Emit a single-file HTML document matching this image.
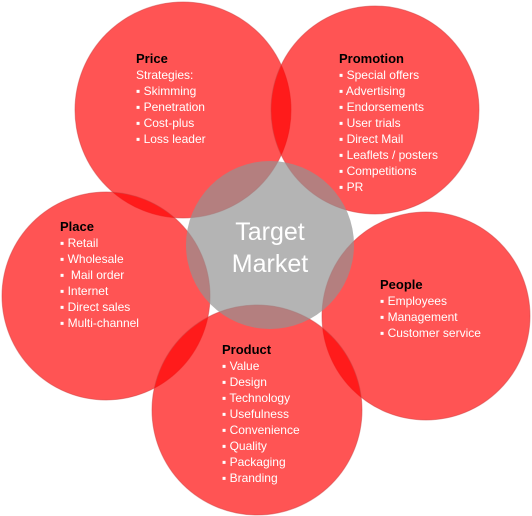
<!DOCTYPE html>
<html><head><meta charset="utf-8"><style>
html,body{margin:0;padding:0;background:#fff;}
svg{display:block;font-family:"Liberation Sans",Arial,sans-serif;}
.t{font-weight:bold;font-size:13px;fill:#000;}
.i{font-size:12px;fill:#fff;}
</style></head><body>
<svg width="532" height="516" viewBox="0 0 532 516">
<g fill="#ff0000" fill-opacity="0.67" stroke="#d04040" stroke-opacity="0.5" stroke-width="1">
<circle cx="183" cy="110" r="108"/>
<circle cx="375" cy="110" r="104"/>
<circle cx="106" cy="296" r="104"/>
<circle cx="426" cy="316" r="104"/>
<circle cx="257" cy="410" r="105"/>
</g>
<circle cx="270" cy="245" r="84" fill="#929292" fill-opacity="0.69"/>
<text x="270" y="240" text-anchor="middle" font-size="25" fill="#fff">Target</text>
<text x="270" y="272" text-anchor="middle" font-size="25" fill="#fff">Market</text>

<g>
<text class="t" x="136" y="63">Price</text>
<text class="i" x="136" y="79">Strategies:</text>
<text class="i" x="136" y="95">▪ Skimming</text>
<text class="i" x="136" y="111">▪ Penetration</text>
<text class="i" x="136" y="127">▪ Cost-plus</text>
<text class="i" x="136" y="143">▪ Loss leader</text>
</g>
<g>
<text class="t" x="339" y="63">Promotion</text>
<text class="i" x="339" y="79">▪ Special offers</text>
<text class="i" x="339" y="95">▪ Advertising</text>
<text class="i" x="339" y="111">▪ Endorsements</text>
<text class="i" x="339" y="127">▪ User trials</text>
<text class="i" x="339" y="143">▪ Direct Mail</text>
<text class="i" x="339" y="159">▪ Leaflets / posters</text>
<text class="i" x="339" y="175">▪ Competitions</text>
<text class="i" x="339" y="191">▪ PR</text>
</g>
<g>
<text class="t" x="60" y="231">Place</text>
<text class="i" x="60" y="247">▪ Retail</text>
<text class="i" x="60" y="263">▪ Wholesale</text>
<text class="i" x="60" y="279">▪&#160; Mail order</text>
<text class="i" x="60" y="295">▪ Internet</text>
<text class="i" x="60" y="311">▪ Direct sales</text>
<text class="i" x="60" y="327">▪ Multi-channel</text>
</g>
<g>
<text class="t" x="380" y="289">People</text>
<text class="i" x="380" y="305">▪ Employees</text>
<text class="i" x="380" y="321">▪ Management</text>
<text class="i" x="380" y="337">▪ Customer service</text>
</g>
<g>
<text class="t" x="222" y="354">Product</text>
<text class="i" x="222" y="370">▪ Value</text>
<text class="i" x="222" y="386">▪ Design</text>
<text class="i" x="222" y="402">▪ Technology</text>
<text class="i" x="222" y="418">▪ Usefulness</text>
<text class="i" x="222" y="434">▪ Convenience</text>
<text class="i" x="222" y="450">▪ Quality</text>
<text class="i" x="222" y="466">▪ Packaging</text>
<text class="i" x="222" y="482">▪ Branding</text>
</g>
</svg>
</body></html>
